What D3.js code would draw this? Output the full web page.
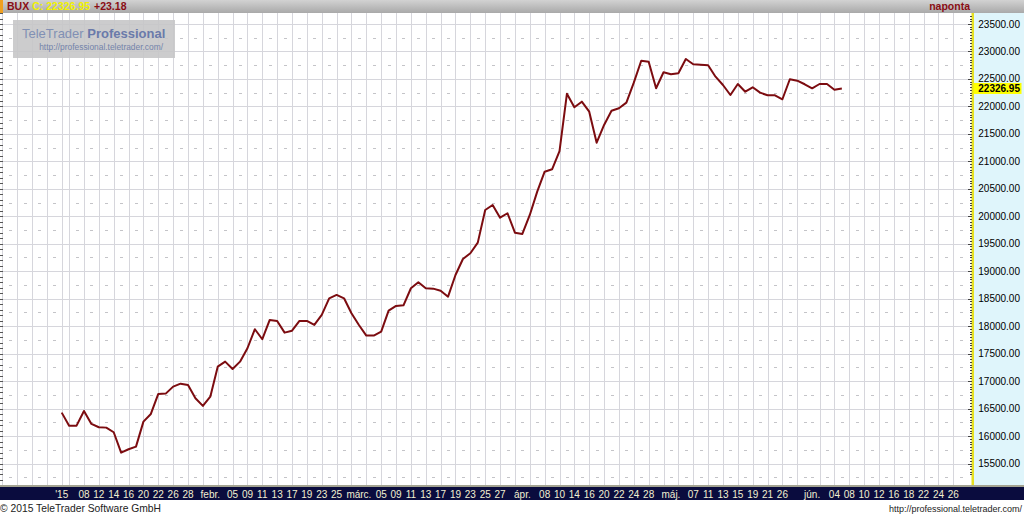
<!DOCTYPE html>
<html><head><meta charset="utf-8">
<script src="https://cdn.jsdelivr.net/npm/d3@7"></script>
<style>
html,body{margin:0;padding:0;background:#fff;}
svg{display:block;font-family:"Liberation Sans",Arial,sans-serif;}
</style>
</head><body>
<svg id="chart" width="1024" height="516"></svg>
<script>
// ---- data ----
const symbol = "BUX";
const lastValue = 22326.95;
const change = "+23.18";
const periodLabel = "naponta";

// trading days (2015), per month
const janDays = [5,6,7,8,9,12,13,14,15,16,19,20,21,22,23,26,27,28,29,30];
const febDays = [2,3,4,5,6,9,10,11,12,13,16,17,18,19,20,23,24,25,26,27];
const marDays = [2,3,4,5,6,9,10,11,12,13,16,17,18,19,20,23,24,25,26,27,30,31];
const aprDays = [1,2,7,8,9,10,13,14,15,16,17,20,21,22,23,24,27,28,29,30];
const mayDays = [4,5,6,7,8,11,12,13,14,15,18,19,20,21,22,26,27,28,29];
const junDays = [1,2,3,4,5,8,9,10,11,12,15,16,17,18,19,22,23,24,25,26,29,30];

// daily close values (one per trading day from Jan 5)
const closes = [
16426,16189,16189,16457,16220,16160,16153,16069,15698,15760,
15807,16262,16402,16766,16772,16899,16953,16930,16688,16548,
16717,17263,17354,17221,17354,17598,17944,17762,18113,18095,
17882,17918,18095,18095,18022,18204,18507,18568,18507,18234,
18022,17828,17828,17900,18282,18368,18380,18690,18799,18690,
18683,18646,18537,18932,19223,19327,19520,20115,20206,19975,
20055,19702,19678,20024,20448,20812,20855,21185,22232,21984,
22086,21904,21340,21662,21922,21966,22068,22432,22832,22814,
22330,22621,22585,22603,22863,22767,22759,22748,22541,22390,
22208,22408,22268,22348,22250,22202,22202,22130,22494,22468,
22403,22330,22408,22408,22304,22326.95
];

// x-axis tick labels and their dates (month-day)
const tickDates = [
"1-5","1-8","1-12","1-14","1-16","1-20","1-22","1-26","1-28",
"2-2","2-5","2-9","2-11","2-13","2-17","2-19","2-23","2-25",
"3-2","3-5","3-9","3-11","3-13","3-17","3-19","3-23","3-25","3-27",
"4-1","4-8","4-10","4-14","4-16","4-20","4-22","4-24","4-28",
"5-4","5-7","5-11","5-13","5-15","5-19","5-21","5-26",
"6-1","6-4","6-8","6-10","6-12","6-16","6-18","6-22","6-24","6-26"];
const tickLabels = [
"'15","08","12","14","16","20","22","26","28",
"febr.","05","09","11","13","17","19","23","25",
"márc.","05","09","11","13","17","19","23","25","27",
"ápr.","08","10","14","16","20","22","24","28",
"máj.","07","11","13","15","19","21","26",
"jún.","04","08","10","12","16","18","22","24","26"];

const yTicks = d3.range(15500, 23501, 500);

// ---- build day index ----
const months = [janDays,febDays,marDays,aprDays,mayDays,junDays];
const days = [];
months.forEach((arr,mi)=>arr.forEach((d,k)=>days.push({key:(mi+1)+"-"+d, month:mi, offset:k})));
const idxOf = new Map(days.map((d,i)=>[d.key,i]));

// ---- layout ----
const W=1024, H=516;
const plotL=0, plotR=972, plotT=13, plotB=486;
const svg = d3.select("#chart");

const x = d3.scaleLinear().domain([0,120]).range([61.7, 61.7+7.43*120]);
const y = d3.scaleLinear().domain([15500,23500]).range([463.5,24]);

// backgrounds
svg.append("rect").attr("x",0).attr("y",0).attr("width",W).attr("height",H).attr("fill","#fff");
svg.append("rect").attr("x",plotR).attr("y",plotT).attr("width",W-plotR).attr("height",plotB-plotT).attr("fill","#dff5fb");

// grid indices
const gridIdx = [-8,-6,-4,-2,0];
days.forEach((d,i)=>{ if(d.offset%2===1) gridIdx.push(i); });
const gridSet = new Set(gridIdx);
const dashIdx = [];
for(let i=-7;i<days.length;i++){ if(!gridSet.has(i)) dashIdx.push(i); }

const g = svg.append("g");
// horizontal major grid
g.selectAll("line.hg").data(yTicks).join("line")
 .attr("x1",plotL).attr("x2",plotR-2).attr("y1",d=>Math.round(y(d))+0.5).attr("y2",d=>Math.round(y(d))+0.5)
 .attr("stroke","#d6d6dc").attr("stroke-width",1);
// vertical grid
g.selectAll("line.vg").data(gridIdx.filter(i=>x(i)<plotR-4 && x(i)>0)).join("line")
 .attr("x1",d=>Math.round(x(d))+0.5).attr("x2",d=>Math.round(x(d))+0.5).attr("y1",plotT).attr("y2",plotB)
 .attr("stroke","#d6d6dc").attr("stroke-width",1);
// minor dashes
const minorLevels = d3.range(15250, 23500, 500);
const dashes = [];
minorLevels.forEach(v=>dashIdx.forEach(i=>{ if(x(i)>1 && x(i)<plotR-4) dashes.push([i,v]); }));
g.selectAll("line.md").data(dashes).join("line")
 .attr("x1",d=>Math.round(x(d[0]))-1).attr("x2",d=>Math.round(x(d[0]))+2)
 .attr("y1",d=>Math.round(y(d[1]))+0.5).attr("y2",d=>Math.round(y(d[1]))+0.5)
 .attr("stroke","#c4c4c8").attr("stroke-width",1);

// left edge ticks
const leftTicks = d3.range(15200, 23800, 100).filter(v=>y(v)>plotT && y(v)<plotB);
g.selectAll("line.lt").data(leftTicks).join("line")
 .attr("x1",0).attr("x2",3).attr("y1",d=>Math.round(y(d))+0.5).attr("y2",d=>Math.round(y(d))+0.5)
 .attr("stroke","#555").attr("stroke-width",1);

// watermark
const wm = svg.append("g");
wm.append("rect").attr("x",13).attr("y",20).attr("width",162).attr("height",38).attr("fill","#c6c6c8").attr("opacity",0.9);
const wt = wm.append("text").attr("x",22).attr("y",38).attr("font-size",13);
wt.append("tspan").attr("fill","#8190b4").text("TeleTrader ");
wt.append("tspan").attr("fill","#6a7aaa").attr("font-weight","bold").text("Professional");
wm.append("text").attr("x",163).attr("y",50).attr("text-anchor","end").attr("font-size",8.4).attr("fill","#7383aa").text("http://professional.teletrader.com/");

// data line
const line = d3.line().x((d,i)=>x(i)).y(d=>y(d));
svg.append("path").datum(closes).attr("d",line).attr("fill","none")
 .attr("stroke","#7c0c10").attr("stroke-width",2).attr("stroke-linejoin","round");

// right axis line (yellow with dotted ticks)
svg.append("rect").attr("x",971.5).attr("y",plotT).attr("width",2.5).attr("height",plotB-plotT).attr("fill","#e6e020");
const axTicks = d3.range(15300, 23800, 50).filter(v=>y(v)>plotT+1 && y(v)<plotB-1);
svg.selectAll("line.at").data(axTicks).join("line")
 .attr("x1",d=>d%500===0?968:970).attr("x2",972)
 .attr("y1",d=>Math.round(y(d))+0.5).attr("y2",d=>Math.round(y(d))+0.5)
 .attr("stroke","#444").attr("stroke-width",1);

// y labels
svg.selectAll("text.yl").data(yTicks).join("text")
 .attr("x",1020).attr("y",d=>y(d)+3.5).attr("text-anchor","end")
 .attr("font-size",10).attr("fill","#000").text(d=>d3.format(".2f")(d));

// current value marker
svg.append("rect").attr("x",973.5).attr("y",y(lastValue)-5.5).attr("width",48).attr("height",11).attr("fill","#ffff00");
svg.append("text").attr("x",1020).attr("y",y(lastValue)+3.5).attr("text-anchor","end")
 .attr("font-size",10).attr("font-weight","bold").attr("fill","#000").text(d3.format(".2f")(lastValue));

// header
const hg = svg.append("defs").append("linearGradient").attr("id","hdr").attr("x1",0).attr("x2",0).attr("y1",0).attr("y2",1);
hg.append("stop").attr("offset","0%").attr("stop-color","#d2d2d2");
hg.append("stop").attr("offset","100%").attr("stop-color","#a9a9a9");
svg.append("rect").attr("x",0).attr("y",0).attr("width",W).attr("height",plotT).attr("fill","url(#hdr)");
svg.append("rect").attr("x",0).attr("y",0).attr("width",3).attr("height",plotT).attr("fill","#f0a020");
const ht = svg.append("text").attr("x",7).attr("y",10).attr("font-size",10.5).attr("font-weight","bold");
ht.append("tspan").attr("fill","#8a0d14").text(symbol);
ht.append("tspan").attr("fill","#f2f200").attr("dx",3).text("C:");
ht.append("tspan").attr("fill","#f2f200").attr("dx",3).text(d3.format(".2f")(lastValue));
ht.append("tspan").attr("fill","#8a0d14").attr("dx",4).text(change);
svg.append("text").attr("x",970).attr("y",10).attr("text-anchor","end").attr("font-size",10.5)
 .attr("font-weight","bold").attr("fill","#8a0d14").text(periodLabel);

// x axis band
svg.append("rect").attr("x",0).attr("y",plotB).attr("width",W).attr("height",14).attr("fill","#0a0c3e");
svg.append("rect").attr("x",0).attr("y",plotB-1).attr("width",W).attr("height",2).attr("fill","#a3a391");
svg.selectAll("text.xl").data(tickDates).join("text")
 .attr("x",d=>x(idxOf.get(d))).attr("y",497.5).attr("text-anchor","middle")
 .attr("font-size",10).attr("fill","#f2f0d2").text((d,i)=>tickLabels[i]);

// footer
svg.append("text").attr("x",0).attr("y",512).attr("font-size",10.3).attr("fill","#222").text("© 2015 TeleTrader Software GmbH");
svg.append("text").attr("x",1022).attr("y",512).attr("text-anchor","end").attr("font-size",9).attr("fill","#222").text("http://professional.teletrader.com/");
</script>
</body></html>
